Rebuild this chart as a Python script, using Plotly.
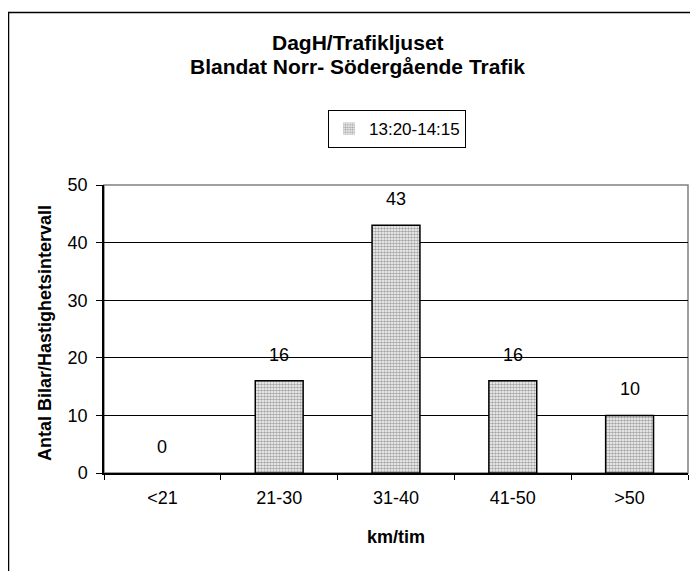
import plotly.graph_objects as go

categories = ["<21", "21-30", "31-40", "41-50", ">50"]
values = [0, 16, 43, 16, 10]
series_name = "13:20-14:15"
y_ticks = [0, 10, 20, 30, 40, 50]

# page is shown with an 8px body margin: work in page pixels, convert to figure
OFF = 8
W, H = 698 - OFF, 571 - OFF
PL, PR, PT, PB = 104, 688, 185, 473          # plot area in page pixels
L, R, T, B = PL - OFF, W - (PR - OFF), PT - OFF, H - (PB - OFF)
pw, ph = W - L - R, H - T - B

def px(x):
    return (x - OFF - L) / pw

def py(y):
    return (H - B - (y - OFF)) / ph

font = "Arial, Liberation Sans, Helvetica, sans-serif"

fig = go.Figure()
fig.add_trace(go.Bar(
    x=categories, y=values, name=series_name,
    marker=dict(color="#ffffff",
                line=dict(color="#000000", width=[0 if v == 0 else 1.5 for v in values]),
                pattern=dict(shape=".", fgcolor="#505050", bgcolor="#ffffff",
                             size=3, solidity=0.6)),
    showlegend=True,
))

for c, v in zip(categories, values):
    fig.add_annotation(x=c, y=v, text=str(v), showarrow=False, xref="x", yref="y",
                       yanchor="bottom", yshift=14,
                       font=dict(family=font, size=18, color="#000"))

fig.add_annotation(text="<b>DagH/Trafikljuset</b>", xref="paper", yref="paper",
                   x=px(358), y=py(42), showarrow=False, yanchor="middle",
                   font=dict(family=font, size=21, color="#000"))
fig.add_annotation(text="<b>Blandat Norr- Södergående Trafik</b>", xref="paper", yref="paper",
                   x=px(357), y=py(67), showarrow=False, yanchor="middle",
                   font=dict(family=font, size=21, color="#000"))

# axis titles
fig.add_annotation(text="<b>km/tim</b>", xref="paper", yref="paper",
                   x=px(396), y=py(537), showarrow=False, yanchor="middle",
                   font=dict(family=font, size=18, color="#000"))
fig.add_annotation(text="<b>Antal Bilar/Hastighetsintervall</b>", xref="paper", yref="paper",
                   x=px(45), y=py(333), showarrow=False, textangle=-90,
                   xanchor="center", yanchor="middle",
                   font=dict(family=font, size=18, color="#000"))

# outer chart border
fig.add_shape(type="rect", xref="paper", yref="paper",
              x0=px(8.5), x1=px(740), y0=py(12.5), y1=py(620),
              line=dict(color="#000", width=1.5), layer="below")
# plot area border (gray)
fig.add_shape(type="rect", xref="paper", yref="paper",
              x0=0, x1=1, y0=0, y1=1,
              line=dict(color="#808080", width=1.5), layer="below")

fig.update_layout(
    width=W, height=H,
    margin=dict(l=L, r=R, t=T, b=B, autoexpand=False),
    paper_bgcolor="white", plot_bgcolor="white",
    bargap=0.59,
    font=dict(family=font, size=18, color="#000"),
    legend=dict(x=px(328), y=py(110), xanchor="left", yanchor="top",
                bordercolor="#000", borderwidth=1, bgcolor="white",
                font=dict(size=17), itemwidth=30),
    xaxis=dict(type="category", showline=True, linecolor="#000", linewidth=1.5,
               ticks="outside", ticklen=5, tickcolor="#000", tickson="boundaries",
               showgrid=False, ticklabelstandoff=8,
               tickfont=dict(size=18)),
    yaxis=dict(range=[0, 50], tickvals=y_ticks, showline=True, linecolor="#000", linewidth=1.5,
               ticks="outside", ticklen=6, tickcolor="#000", ticklabelstandoff=5,
               showgrid=True, gridcolor="#000", gridwidth=1, zeroline=False,
               tickfont=dict(size=18)),
)

fig.write_html("out.html")
